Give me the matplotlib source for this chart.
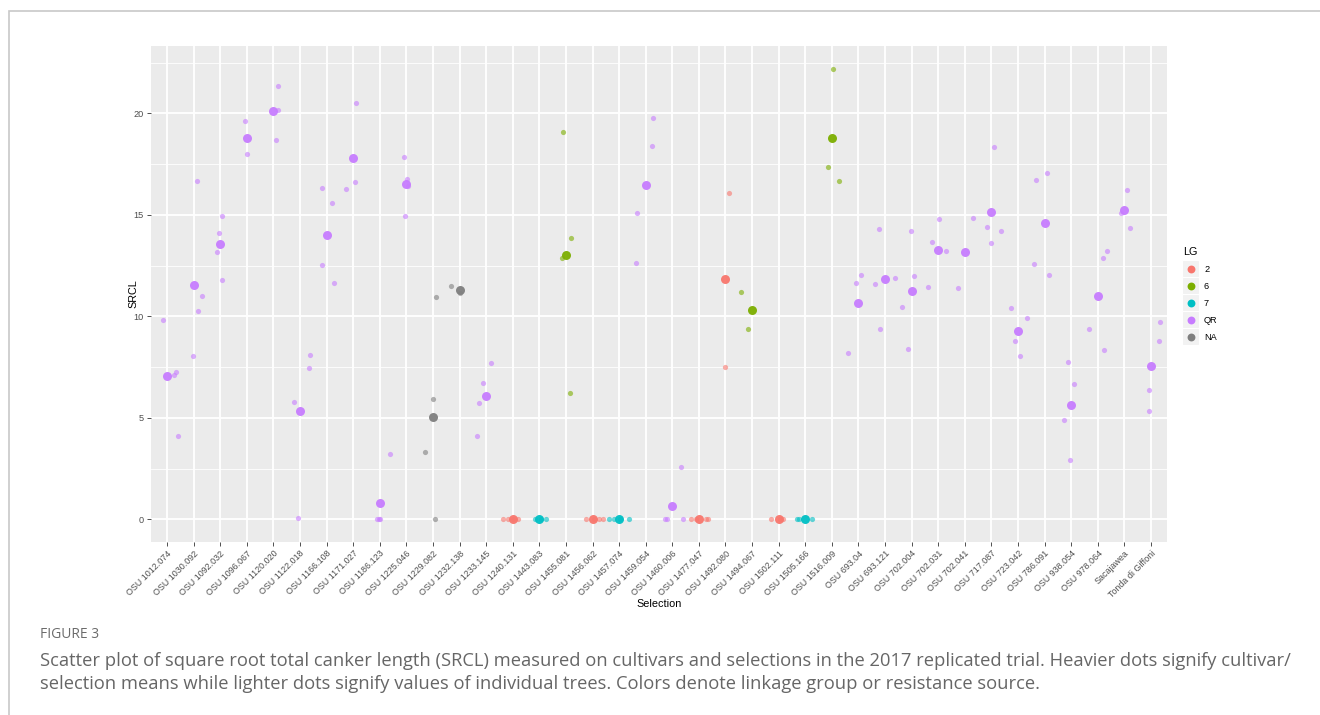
import numpy as np
import matplotlib
matplotlib.use("Agg")
import matplotlib.pyplot as plt
from matplotlib.patches import Rectangle

# Selections on the x axis
selections = [
    "OSU 1012.074", "OSU 1030.092", "OSU 1092.032", "OSU 1096.067", "OSU 1120.020",
    "OSU 1122.018", "OSU 1166.108", "OSU 1171.027", "OSU 1186.123", "OSU 1225.046",
    "OSU 1229.082", "OSU 1232.138", "OSU 1233.145", "OSU 1240.131", "OSU 1443.083",
    "OSU 1455.081", "OSU 1456.062", "OSU 1457.074", "OSU 1459.054", "OSU 1460.006",
    "OSU 1477.047", "OSU 1492.080", "OSU 1494.067", "OSU 1502.111", "OSU 1505.166",
    "OSU 1516.009", "OSU 693.04", "OSU 693.121", "OSU 702.004", "OSU 702.031",
    "OSU 702.041", "OSU 717.087", "OSU 723.042", "OSU 786.091", "OSU 938.054",
    "OSU 978.064", "Sacajawea", "Tonda di Giffoni",
]

# Linkage group / resistance source of each selection
lg = [
    "QR", "QR", "QR", "QR", "QR", "QR", "QR", "QR", "QR", "QR",
    "NA", "NA", "QR", "2", "7", "6", "2", "7", "QR", "QR",
    "2", "2", "6", "2", "7", "6", "QR", "QR", "QR", "QR",
    "QR", "QR", "QR", "QR", "QR", "QR", "QR", "QR",
]

# Selection means (SRCL)
mean_srcl = [
    7.06, 11.53, 13.55, 18.81, 20.10, 5.34, 13.99, 17.79, 0.82, 16.51,
    5.06, 11.30, 6.08, 0.0, 0.0, 13.02, 0.0, 0.0, 16.48, 0.67,
    0.0, 11.83, 10.32, 0.0, 0.0, 18.77, 10.68, 11.83, 11.27, 13.28,
    13.17, 15.15, 9.29, 14.61, 5.62, 10.99, 15.23, 7.57,
]

# Individual tree values (SRCL)
tree_srcl = [
    [9.81, 7.11, 7.27, 4.13],
    [16.66, 11.02, 10.25, 8.06],
    [14.97, 14.10, 13.15, 11.81],
    [19.62, 17.99],
    [21.34, 20.16, 18.67],
    [5.80, 7.47, 8.12, 0.05],
    [16.31, 15.59, 12.53, 11.63],
    [20.51, 16.61, 16.28],
    [0.0, 0.0, 0.0, 3.21],
    [17.84, 16.77, 16.43, 14.94],
    [5.91, 3.33, 0.0, 10.97],
    [11.50, 11.15],
    [7.70, 6.72, 5.72, 4.13],
    [0.0, 0.0, 0.0, 0.0],
    [0.0, 0.0, 0.0],
    [19.08, 13.87, 12.89, 6.22],
    [0.0, 0.0, 0.0, 0.0],
    [0.0, 0.0, 0.0, 0.0],
    [19.77, 18.41, 15.09, 12.61],
    [2.57, 0.0, 0.0, 0.0],
    [0.0, 0.0, 0.0, 0.0],
    [16.09, 7.49],
    [11.22, 9.39],
    [0.0, 0.0, 0.0],
    [0.0, 0.0, 0.0],
    [22.21, 17.38, 16.66],
    [12.06, 11.66, 8.19],
    [14.30, 11.58, 9.39, 11.89],
    [14.22, 11.97, 10.45, 8.39],
    [14.82, 13.68, 13.23, 11.43],
    [14.87, 11.42],
    [18.36, 14.40, 14.20, 13.63],
    [10.40, 9.91, 8.78, 8.04],
    [16.72, 17.07, 12.04, 12.58],
    [6.67, 4.88, 2.95, 7.78],
    [9.39, 8.37, 12.89, 13.23],
    [16.23, 15.09, 14.37],
    [9.71, 8.78, 6.37, 5.34],
]

# Horizontal jitter of each tree (category units)
tree_jitter = [
    [-0.14, 0.26, 0.34, 0.40],
    [0.14, 0.33, 0.18, -0.03],
    [0.08, -0.06, -0.12, 0.06],
    [-0.07, 0.01],
    [0.18, 0.17, 0.09],
    [-0.23, 0.33, 0.39, -0.06],
    [-0.17, 0.19, -0.18, 0.28],
    [0.11, 0.07, -0.28],
    [-0.12, 0.01, -0.03, 0.38],
    [-0.08, 0.03, 0.07, -0.05],
    [0.0, -0.31, 0.06, 0.11],
    [-0.33, 0.02],
    [0.17, -0.13, -0.27, -0.35],
    [-0.38, -0.19, 0.18, 0.0],
    [-0.18, 0.25, 0.06],
    [-0.12, 0.19, -0.16, 0.14],
    [-0.25, 0.23, 0.38, 0.05],
    [-0.38, -0.21, 0.36, 0.03],
    [0.26, 0.23, -0.33, -0.36],
    [0.31, -0.20, -0.26, 0.39],
    [-0.31, -0.11, 0.27, 0.33],
    [0.12, 0.0],
    [-0.41, -0.16],
    [-0.30, 0.15, 0.05],
    [-0.32, -0.24, 0.24],
    [0.06, -0.15, 0.26],
    [0.08, -0.10, -0.39],
    [-0.24, -0.38, -0.18, 0.37],
    [-0.04, 0.09, -0.37, -0.15],
    [0.03, -0.25, 0.30, -0.40],
    [0.29, -0.24],
    [0.09, -0.17, 0.34, -0.01],
    [-0.28, 0.33, -0.11, 0.09],
    [-0.32, 0.08, 0.16, -0.39],
    [0.11, -0.27, -0.06, -0.14],
    [-0.34, 0.25, 0.20, 0.36],
    [0.08, -0.12, 0.21],
    [0.32, 0.30, -0.08, -0.07],
]

lg_levels = ["2", "6", "7", "QR", "NA"]
lg_colors = {"2": "#F8766D", "6": "#7CAE00", "7": "#00BFC4", "QR": "#C77CFF", "NA": "#7F7F7F"}

axis_font = "Liberation Sans"
caption_font = "Open Sans"

fig = plt.figure(figsize=(13.2, 7.15), dpi=100)

# light frame around the figure block
fig.patches.append(Rectangle((9 / 1320, -0.05), 1.2, 1 - 11 / 715 + 0.05,
                             transform=fig.transFigure, fill=False,
                             edgecolor="#c8c8c8", linewidth=1.2))

ax = fig.add_axes([151 / 1320, 1 - 542 / 715, 1016 / 1320, 496 / 715])
ax.set_facecolor("#EBEBEB")
for s in ax.spines.values():
    s.set_visible(False)

x = np.arange(len(selections))

# individual trees
for i in range(len(selections)):
    xs = i + np.array(tree_jitter[i])
    ax.scatter(xs, tree_srcl[i], s=14, color=lg_colors[lg[i]], alpha=0.6,
               linewidths=0, zorder=3)

# selection means
for i in range(len(selections)):
    ax.scatter(x[i], mean_srcl[i], s=42, color=lg_colors[lg[i]], alpha=0.95,
               linewidths=0, zorder=4)

ax.set_xlim(-0.6, len(selections) - 0.4)
ax.set_ylim(-1.11, 23.32)
ax.set_xticks(x)
ax.set_xticklabels(selections, rotation=45, ha="right", va="top",
                   rotation_mode="anchor", fontsize=6.4, color="#4D4D4D",
                   family=axis_font)
ax.set_yticks([0, 5, 10, 15, 20])
ax.set_yticklabels(["0", "5", "10", "15", "20"], fontsize=6.6, color="#4D4D4D",
                   family=axis_font)
ax.set_yticks([2.5, 7.5, 12.5, 17.5, 22.5], minor=True)
ax.tick_params(axis="both", which="major", length=3, width=0.6, color="#333333", pad=2)
ax.tick_params(axis="y", which="minor", length=0)
ax.grid(True, which="major", color="white", linewidth=1.3)
ax.grid(True, which="minor", axis="y", color="white", linewidth=0.6)
ax.set_axisbelow(True)

ax.set_xlabel("Selection", fontsize=7.8, family=axis_font, labelpad=0)
ax.set_ylabel("SRCL", fontsize=7.8, family=axis_font, labelpad=-3)

# legend drawn by hand to get ggplot-like key boxes
fig.text(1183 / 1320, 1 - 252 / 715, "LG", fontsize=7.8, family=axis_font,
         ha="left", va="center")
lax = fig.add_axes([1182 / 1320, 1 - 345 / 715, 17 / 1320, 85 / 715])
lax.set_xlim(0, 1)
lax.set_ylim(len(lg_levels), 0)
lax.axis("off")
for k, lev in enumerate(lg_levels):
    lax.add_patch(Rectangle((0, k), 1, 1, facecolor="#F2F2F2", edgecolor="white",
                            linewidth=0.8))
    lax.scatter(0.5, k + 0.5, s=32, color=lg_colors[lev], linewidths=0)
    fig.text(1204 / 1320, 1 - (261 + 17 * k + 8.5) / 715, lev, fontsize=6.6,
             family=axis_font, ha="left", va="center")

# caption
fig.text(40 / 1320, 1 - 634 / 715, "FIGURE 3", fontsize=10, color="#6b6b6b",
         family=caption_font, ha="left", va="center")
caption = ("Scatter plot of square root total canker length (SRCL) measured on cultivars and "
           "selections in the 2017 replicated trial. Heavier dots signify cultivar/\n"
           "selection means while lighter dots signify values of individual trees. "
           "Colors denote linkage group or resistance source.")
fig.text(40 / 1320, 1 - 652 / 715, caption, fontsize=13.25, color="#666666",
         family=caption_font, ha="left", va="top", linespacing=1.38)

fig.savefig("out.png", dpi=100)
